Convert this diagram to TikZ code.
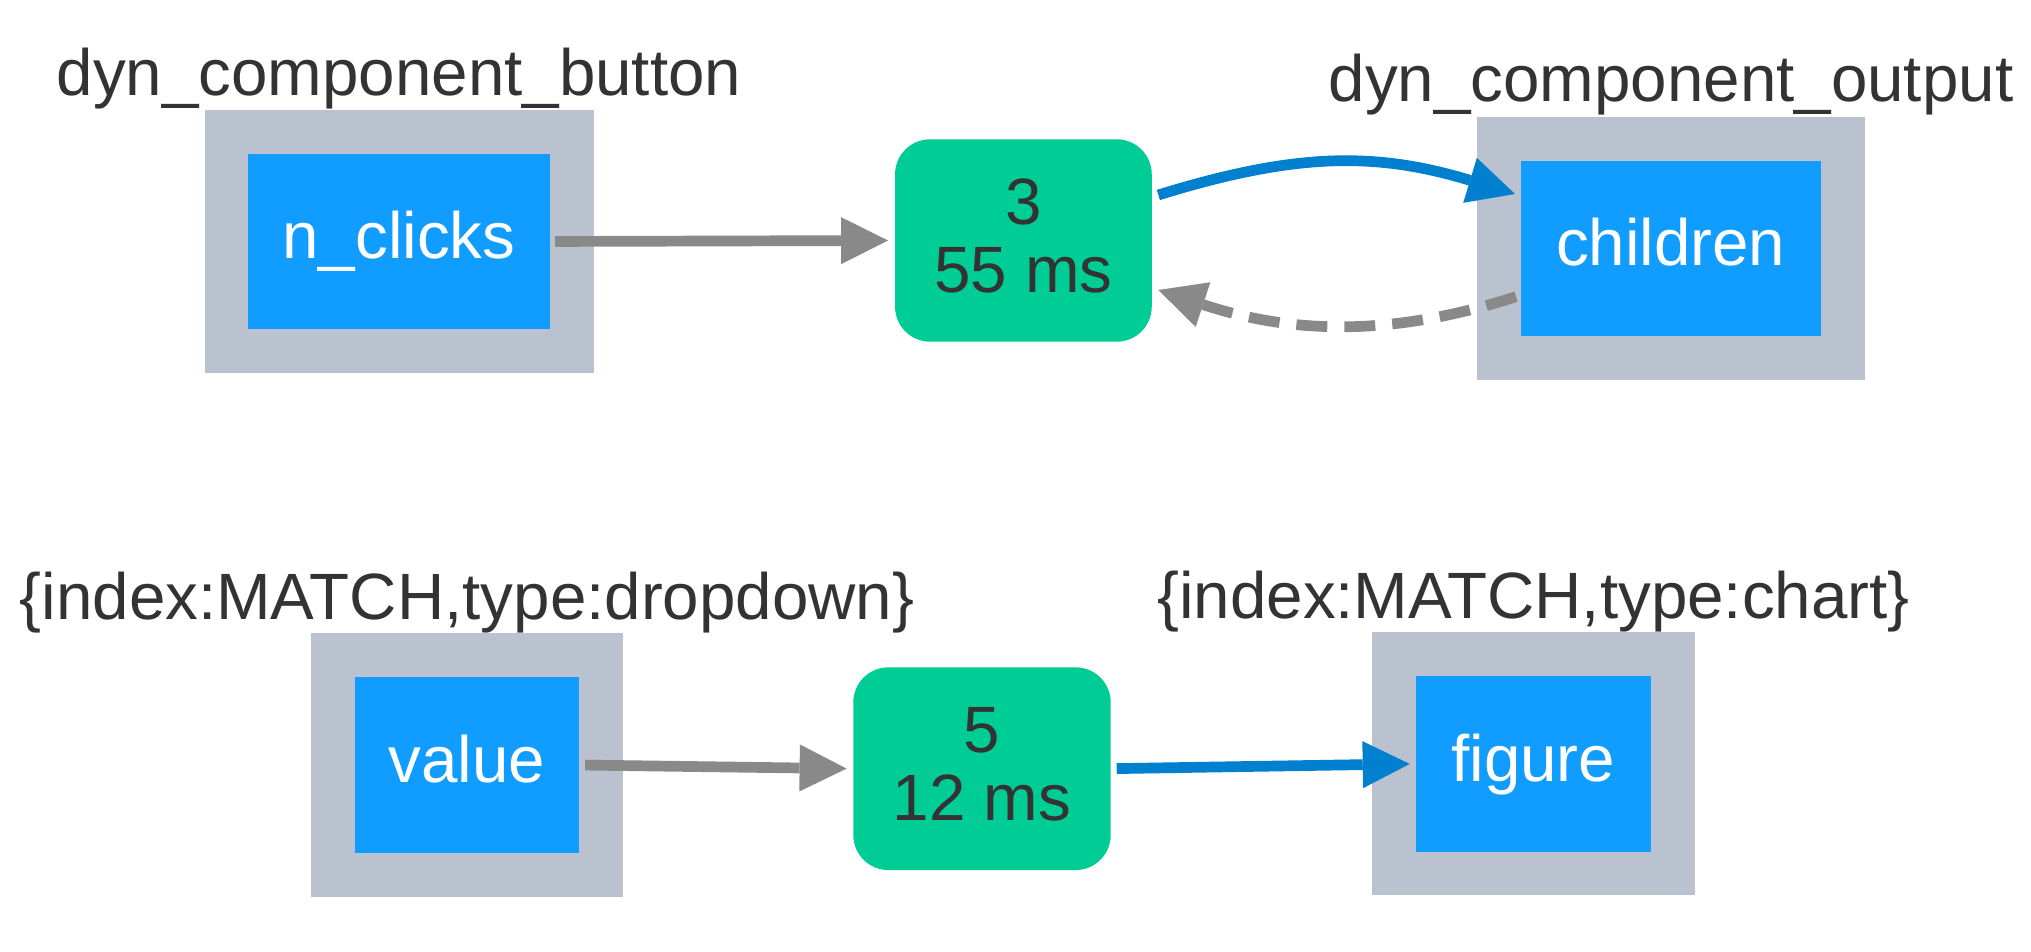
\documentclass[tikz,border=0pt]{standalone}
\usepackage{fontspec}
\setmainfont{Liberation Sans}
\usetikzlibrary{arrows.meta}
\definecolor{outergray}{HTML}{B9C2CE}
\definecolor{innerblue}{HTML}{119DFF}
\definecolor{cbgreen}{HTML}{00CC96}
\definecolor{edgeblue}{HTML}{0080CF}
\definecolor{edgegray}{HTML}{898989}
\definecolor{txtgray}{HTML}{333333}
\newcommand\dgfont{\fontsize{65.5pt}{67.5pt}\selectfont}
\begin{document}
\begin{tikzpicture}[x=1pt,y=1pt,
  compbox/.style={rectangle, fill=outergray, draw=none, inner sep=0pt, outer sep=0pt},
  propbox/.style={rectangle, fill=innerblue, draw=none, text=white, inner sep=0pt, outer sep=0pt,
    text height=47pt, text depth=12pt, font=\dgfont},
  cbnode/.style={rectangle, rounded corners=35pt, fill=cbgreen, draw=none, text=txtgray, align=center,
    inner sep=0pt, outer sep=0pt, text height=115pt, text depth=11.4pt, font=\dgfont},
  lbl/.style={anchor=base, text=txtgray, font=\dgfont, inner sep=0pt},
  tipx/.style={-{Triangle[length=47pt,width=47pt,line width=0pt]}},
  graylink/.style={draw=edgegray, line width=10.7pt, tipx},
  bluelink/.style={draw=edgeblue, line width=10.7pt, tipx}]
\useasboundingbox (0,0) rectangle (2031,952);

% row 1
\node[compbox, minimum width=389pt, minimum height=263pt] (ob1) at (399,710.5) {};
\node[propbox, minimum width=302pt, minimum height=175pt] (nc) at (399,710.5) {n\_clicks};
\node[lbl] (lab1) at (399,856) {dyn\_component\_button};

\node[compbox, minimum width=388.5pt, minimum height=263pt] (ob2) at (1670.75,703.5) {};
\node[propbox, minimum width=300.5pt, minimum height=175pt] (ch) at (1670.75,703.5) {children};
\node[lbl] (lab2) at (1671,850) {dyn\_component\_output};

\node[cbnode, minimum width=256.7pt, minimum height=202.4pt] (g1) at (1023.4,711.5) {3\\55 ms};

% row 2
\node[compbox, minimum width=312pt, minimum height=263.4pt] (ob3) at (466.7,187) {};
\node[propbox, minimum width=224pt, minimum height=176pt] (val) at (466.7,187) {value};
\node[lbl] (lab3) at (467,332.7) {\{index:MATCH,type:dropdown\}};

\node[cbnode, minimum width=257.4pt, minimum height=202.7pt] (g2) at (982,183.3) {5\\12 ms};

\node[compbox, minimum width=323pt, minimum height=263.3pt] (ob4) at (1533.1,188.3) {};
\node[propbox, minimum width=235.6pt, minimum height=175.7pt] (fig) at (1533.3,188.2) {figure};
\node[lbl] (lab4) at (1533.5,333.3) {\{index:MATCH,type:chart\}};

% connectors
\draw[graylink, shorten <=5pt, shorten >=7pt] (nc.east) -- (g1.west);
\draw[bluelink] ([shift={(6.6pt,45.5pt)}]g1.east)
  .. controls +(138.2pt,42.8pt) and +(-138.5pt,42pt) .. ([shift={(-5.5pt,54.5pt)}]ch.west);
\draw[graylink, dash pattern=on 31pt off 17pt] ([shift={(-4.5pt,-48.2pt)}]ch.west)
  .. controls +(-130pt,-41.9pt) and +(129.8pt,-42.5pt) .. ([shift={(6.6pt,-49.5pt)}]g1.east);
\draw[graylink, shorten <=6.4pt, shorten >=6.7pt] (val.east) -- (g2.west);
\draw[bluelink, shorten <=6pt, shorten >=5.8pt] (g2.east) -- (fig.west);
\end{tikzpicture}
\end{document}
